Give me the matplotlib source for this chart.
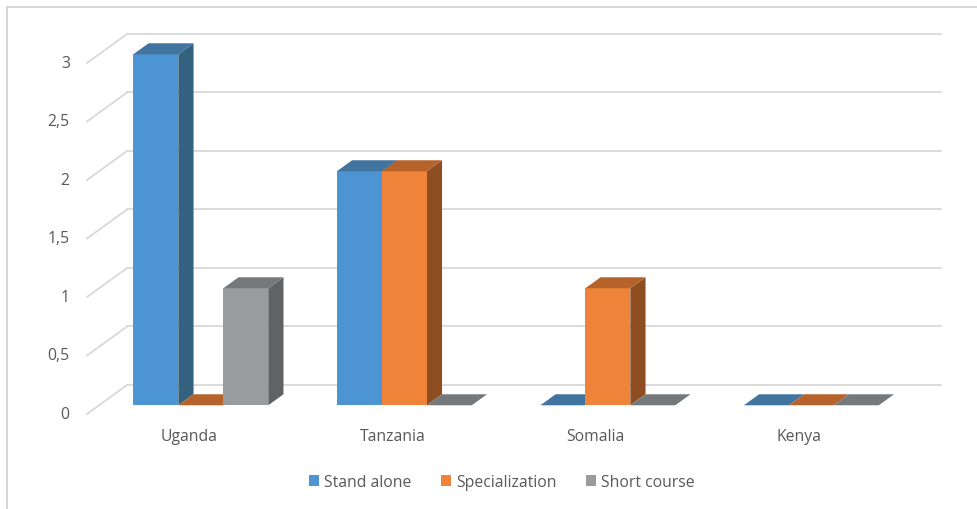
import matplotlib.pyplot as plt
from matplotlib.patches import Polygon, Patch

plt.rcParams['font.family'] = ['Open Sans', 'DejaVu Sans']

countries = ['Uganda', 'Tanzania', 'Somalia', 'Kenya']
series = ['Stand alone', 'Specialization', 'Short course']
stand_alone = [3, 2, 0, 0]
specialization = [0, 2, 1, 0]
short_course = [1, 0, 0, 0]
ticks = [0, 0.5, 1, 1.5, 2, 2.5, 3]
tick_labels = ['0', '0,5', '1', '1,5', '2', '2,5', '3']

front_cols = ['#4d94d3', '#ef8339', '#999c9e']
top_cols = ['#41749f', '#b6622b', '#76797b']
side_cols = ['#34617f', '#8e4e22', '#606365']

# oblique projection: full wall depth in data units
DX, DY = 0.197, 0.248
BAR_W = 0.221
D0, D1 = 0.30, 0.68   # bar depth as fraction of wall depth
FS = 11.3
TXT = '#595959'

fig = plt.figure(figsize=(9.78, 5.10), dpi=100)
ax = fig.add_axes([0, 0, 1, 1])
ax.set_xlim(-0.4275, 4.378)
ax.set_ylim(-0.812, 3.547)
ax.axis('off')

grid = '#d9d9d9'
n = len(countries)
for t, lab in zip(ticks, tick_labels):
    ax.plot([0, DX], [t, t + DY], color=grid, lw=1.3, zorder=1)
    ax.plot([DX, n + DX], [t + DY, t + DY], color=grid, lw=1.3, zorder=1)
    ax.text(-0.085, t, lab, ha='right', va='center', fontsize=FS, color=TXT)

values = [stand_alone, specialization, short_course]
for i, name in enumerate(countries):
    left = i + 0.5 - 1.5 * BAR_W
    for j in range(len(series)):
        v = values[j][i]
        x0 = left + j * BAR_W + D0 * DX
        y0 = D0 * DY
        ddx = (D1 - D0) * DX
        ddy = (D1 - D0) * DY
        x1 = x0 + BAR_W
        if v > 0:
            ax.add_patch(Polygon([(x1, y0), (x1 + ddx, y0 + ddy), (x1 + ddx, y0 + ddy + v), (x1, y0 + v)],
                                 closed=True, fc=side_cols[j], ec='none', zorder=3))
            ax.add_patch(Polygon([(x0, y0), (x1, y0), (x1, y0 + v), (x0, y0 + v)],
                                 closed=True, fc=front_cols[j], ec='none', zorder=3))
        ax.add_patch(Polygon([(x0, y0 + v), (x1, y0 + v), (x1 + ddx, y0 + ddy + v), (x0 + ddx, y0 + ddy + v)],
                             closed=True, fc=top_cols[j], ec='none', zorder=3))
    ax.text(i + 0.5, -0.188, name, ha='center', va='center', fontsize=FS, color=TXT)

handles = [Patch(fc=c, ec='none') for c in front_cols]
fig.legend(handles, series, loc='center', bbox_to_anchor=(0.513, 1 - 483 / 510), ncol=3,
           frameon=False, fontsize=FS, handlelength=0.65, handleheight=0.65,
           handletextpad=0.3, columnspacing=1.9, labelcolor=TXT)

# chart frame edges
fig.add_artist(plt.Line2D([7 / 978, 1], [1 - 8 / 510, 1 - 8 / 510], color='#d0d0d0', lw=1.2))
fig.add_artist(plt.Line2D([7 / 978, 7 / 978], [0, 1 - 8 / 510], color='#d0d0d0', lw=1.2))

fig.savefig('out.png', dpi=100)
